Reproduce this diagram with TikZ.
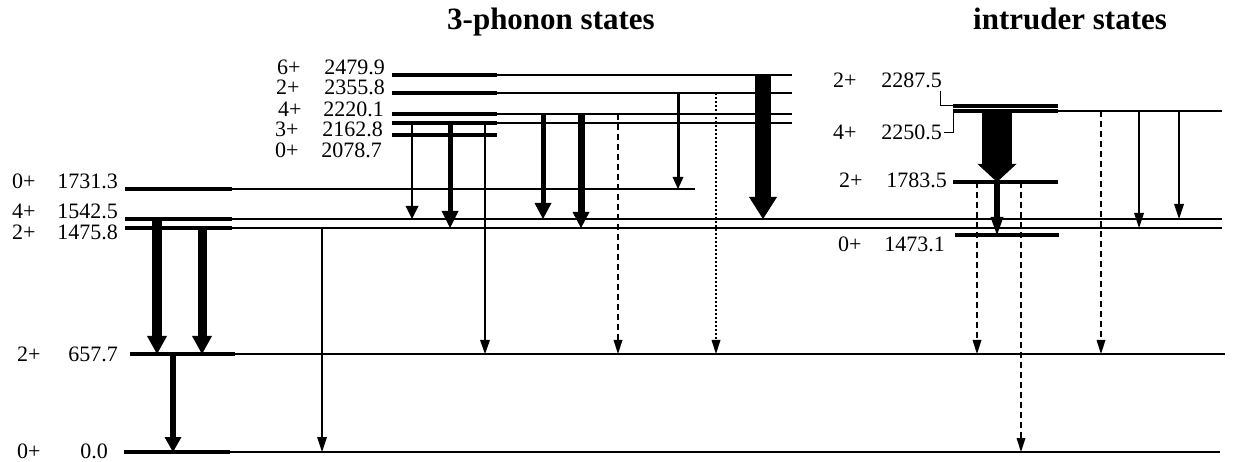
\documentclass[tikz,border=0pt]{standalone}
\usepackage{fontspec}
\setmainfont{Liberation Serif}
\usetikzlibrary{arrows.meta}

% level heights (y grows downward)
\def\Lgs{452}      % 0+ 0.0
\def\Lone{354}     % 2+ 657.7
\def\Lzb{189}      % 0+ 1731.3
\def\Lfb{219}      % 4+ 1542.5
\def\Ltb{228}      % 2+ 1475.8
\def\Lsix{75}      % 6+ 2479.9
\def\Ltwoc{93}     % 2+ 2355.8
\def\Lfourc{114}   % 4+ 2220.1
\def\Lthree{123}   % 3+ 2162.8
\def\Lzeroc{135}   % 0+ 2078.7
\def\Ltwoi{106}    % 2+ 2287.5
\def\Lfouri{111}   % 4+ 2250.5
\def\Ltwoj{182}    % 2+ 1783.5
\def\Lzeroi{235}   % 0+ 1473.1

\begin{document}
\begin{tikzpicture}[x=1pt,y=-1pt,
  bar/.style={line width=4pt},
  thinlev/.style={line width=1.5pt},
  lbl/.style={font=\fontsize{22}{24}\selectfont, inner sep=0pt},
  ttl/.style={font=\fontsize{31}{34}\selectfont\bfseries, inner sep=0pt},
  gam/.style n args={3}{line width=#1,
     -{Triangle[width=#2,length=#3,line width=0pt]}},
  dsh/.style={dash pattern=on 6pt off 4pt},
  dts/.style={dash pattern=on 2pt off 2pt},
  leader/.style={line width=1pt}]

\useasboundingbox (0,0) rectangle (1235,462);

% titles
\node[ttl, anchor=base west] (t3ph) at (447,30) {3-phonon states};
\node[ttl, anchor=base west] (tint) at (973,30) {intruder states};

% ---- low-lying levels ----
\draw[bar] (124,\Lgs) -- (230,\Lgs);
\draw[thinlev] (230,\Lgs) -- (1220,\Lgs);
\draw[bar] (130,\Lone) -- (235,\Lone);
\draw[thinlev] (235,\Lone) -- (1225,\Lone);
\draw[bar] (125,\Lzb) -- (232,\Lzb);
\draw[thinlev] (232,\Lzb) -- (695,\Lzb);
\draw[bar] (125,\Lfb) -- (232,\Lfb);
\draw[thinlev] (232,\Lfb) -- (1222,\Lfb);
\draw[bar] (125,\Ltb) -- (232,\Ltb);
\draw[thinlev] (232,\Ltb) -- (1222,\Ltb);

\node[lbl, anchor=base west] (s0) at (17,458) {0+};
\node[lbl, anchor=base east] (e0) at (108,458) {0.0};
\node[lbl, anchor=base west] (s657) at (17,362) {2+};
\node[lbl, anchor=base east] (e657) at (118,362) {657.7};
\node[lbl, anchor=base west] (s1731) at (12,189) {0+};
\node[lbl, anchor=base east] (e1731) at (118,189) {1731.3};
\node[lbl, anchor=base west] (s1542) at (12,219) {4+};
\node[lbl, anchor=base east] (e1542) at (118,219) {1542.5};
\node[lbl, anchor=base west] (s1475) at (12,240) {2+};
\node[lbl, anchor=base east] (e1475) at (118,240) {1475.8};

% ---- three-phonon levels ----
\foreach \yy in {\Lsix,\Ltwoc,\Lfourc,\Lthree}{
  \draw[bar] (392,\yy) -- (497,\yy);
  \draw[thinlev] (497,\yy) -- (792,\yy);
}
\draw[bar] (392,\Lzeroc) -- (497,\Lzeroc);

\node[lbl, anchor=base west] (s2479) at (277,75) {6+};
\node[lbl, anchor=base east] (e2479) at (385,75) {2479.9};
\node[lbl, anchor=base west] (s2355) at (276,95) {2+};
\node[lbl, anchor=base east] (e2355) at (385,95) {2355.8};
\node[lbl, anchor=base west] (s2220) at (278,117) {4+};
\node[lbl, anchor=base east] (e2220) at (384,117) {2220.1};
\node[lbl, anchor=base west] (s2162) at (275,137) {3+};
\node[lbl, anchor=base east] (e2162) at (383,137) {2162.8};
\node[lbl, anchor=base west] (s2078) at (275,158) {0+};
\node[lbl, anchor=base east] (e2078) at (382,158) {2078.7};

% ---- intruder levels ----
\draw[bar] (953,\Ltwoi) -- (1058,\Ltwoi);
\draw[bar] (953,\Lfouri) -- (1058,\Lfouri);
\draw[thinlev] (1058,\Lfouri) -- (1222,\Lfouri);
\draw[bar] (953,\Ltwoj) -- (1058,\Ltwoj);
\draw[bar] (955,\Lzeroi) -- (1059,\Lzeroi);

\node[lbl, anchor=base west] (s2287) at (833,88) {2+};
\node[lbl, anchor=base east] (e2287) at (942,88) {2287.5};
\node[lbl, anchor=base west] (s2250) at (833,140) {4+};
\node[lbl, anchor=base east] (e2250) at (942,140) {2250.5};
\node[lbl, anchor=base west] (s1783) at (839,188) {2+};
\node[lbl, anchor=base east] (e1783) at (947,188) {1783.5};
\node[lbl, anchor=base west] (s1473) at (838,252) {0+};
\node[lbl, anchor=base east] (e1473) at (945,252) {1473.1};

\coordinate (b2287) at (953,\Ltwoi);
\coordinate (b2250) at (953,\Lfouri);
\draw[leader] ([xshift=-2pt,yshift=-2pt]e2287.south east) |- (b2287);
\draw[leader] ([xshift=2pt]e2250.east) -| (b2250);

% ---- transitions: low-lying ----
\draw[gam={10pt}{20pt}{18pt}] (157,\Lfb) -- (157,\Lone);
\draw[gam={9pt}{20pt}{18pt}] (202,\Ltb) -- (202,\Lone);
\draw[gam={6pt}{17pt}{15pt}] (173,\Lone) -- (173,\Lgs);
\draw[gam={1.5pt}{10pt}{15pt}] (322,\Ltb) -- (322,\Lgs);

% ---- transitions: three-phonon ----
\draw[gam={2.5pt}{13pt}{13pt}] (412,\Lthree) -- (412,\Lfb);
\draw[gam={5pt}{17pt}{17pt}] (450,\Lthree) -- (450,\Ltb);
\draw[gam={1.5pt}{10pt}{14pt}] (485,\Lthree) -- (485,\Lone);
\draw[gam={5pt}{17pt}{16pt}] (543,\Lfourc) -- (543,\Lfb);
\draw[gam={7pt}{17pt}{16pt}] (581,\Lfourc) -- (581,\Ltb);
\draw[gam={1.5pt}{9pt}{14pt}, dsh] (618,\Lfourc) -- (618,\Lone);
\draw[gam={3pt}{11pt}{12pt}] (678,\Ltwoc) -- (678,\Lzb);
\draw[gam={1.5pt}{9pt}{14pt}, dts] (716,\Ltwoc) -- (716,\Lone);
\draw[gam={16pt}{28pt}{22pt}] (763,\Lsix) -- (763,\Lfb);

% ---- transitions: intruder ----
\draw[gam={30pt}{39pt}{18pt}] (997,\Lfouri) -- (997,\Ltwoj);
\draw[gam={6pt}{13pt}{18pt}] (997,\Ltwoj) -- (997,\Lzeroi);
\draw[gam={1.5pt}{9pt}{14pt}, dsh] (977,\Ltwoj) -- (977,\Lone);
\draw[gam={1.5pt}{9pt}{14pt}, dsh] (1021,\Ltwoj) -- (1021,\Lgs);
\draw[gam={1.5pt}{9pt}{14pt}, dsh] (1101,\Lfouri) -- (1101,\Lone);
\draw[gam={1.5pt}{10pt}{15pt}] (1139,\Lfouri) -- (1139,\Ltb);
\draw[gam={1.5pt}{10pt}{15pt}] (1179,\Lfouri) -- (1179,\Lfb);

\end{tikzpicture}
\end{document}
